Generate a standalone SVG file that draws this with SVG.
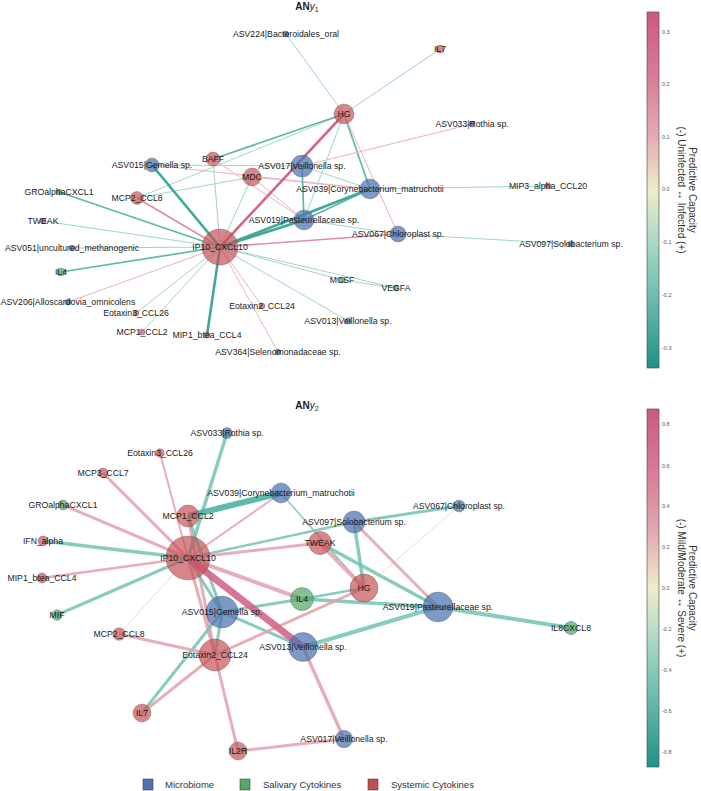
<svg xmlns="http://www.w3.org/2000/svg" width="701" height="791" viewBox="0 0 701 791">
<defs>
<linearGradient id="cmap" x1="0" y1="0" x2="0" y2="1">
<stop offset="0" stop-color="#cc5883"/>
<stop offset="0.2" stop-color="#d98199"/>
<stop offset="0.35" stop-color="#e3abb3"/>
<stop offset="0.5" stop-color="#eeecc9"/>
<stop offset="0.65" stop-color="#a9d7c6"/>
<stop offset="0.8" stop-color="#6ebcaf"/>
<stop offset="1" stop-color="#1f9287"/>
</linearGradient>
</defs>
<style>
text{font-family:"Liberation Sans",Arial,sans-serif;fill:#1a1a1a}
.lbl{font-size:8.7px;text-anchor:middle;dominant-baseline:central}
.title{font-size:10px;text-anchor:middle}
.tick{font-size:5.5px;fill:#555;dominant-baseline:central}
.cbl{font-size:10px;text-anchor:middle;fill:#333}
.leg{font-size:9.5px;fill:#333}
circle{stroke:#444;stroke-width:0.5;stroke-opacity:0.6}
.b{fill:#4c72b0;fill-opacity:0.72}
.g{fill:#55a868;fill-opacity:0.72}
.r{fill:#c44e52;fill-opacity:0.68}
line{stroke-linecap:butt}
.t1{stroke:#9fd6c9;stroke-width:1}
.t2{stroke:#5db9a9;stroke-width:1.7}
.t3{stroke:#3ea899;stroke-width:2.6}
.p1{stroke:#ebb3bd;stroke-width:1}
.p2{stroke:#e08ea3;stroke-width:1.7}
.p3{stroke:#d2668a;stroke-width:2.6}
.bt{stroke:#72c3b3;stroke-opacity:0.85}
.bp{stroke:#e3a0ae;stroke-opacity:0.85}
.bn{stroke:#ebdfc7;stroke-width:1}
.cb{stroke:#444;stroke-width:0.6;fill:url(#cmap)}
</style>
<rect width="701" height="791" fill="#ffffff"/>

<!-- ===== Top network ===== -->
<text class="title" x="307" y="10"><tspan font-weight="bold">AN</tspan><tspan font-style="italic">y</tspan><tspan font-size="7" dy="2">1</tspan></text>
<g id="edges-top">
<line class="t1" x1="344" y1="114" x2="286" y2="34"/>
<line class="t1" x1="344" y1="114" x2="440" y2="49"/>
<line class="t1" x1="344" y1="114" x2="137" y2="198"/>
<line class="t1" x1="344" y1="114" x2="304" y2="220"/>
<line class="t2" x1="344" y1="114" x2="213" y2="159"/>
<line class="t2" x1="344" y1="114" x2="370" y2="189"/>
<line class="p1" x1="344" y1="114" x2="398" y2="234"/>
<line class="p1" x1="472" y1="124" x2="302" y2="166"/>
<line class="t1" x1="152" y1="165" x2="302" y2="166"/>
<line class="p1" x1="152" y1="165" x2="370" y2="189"/>
<line class="p1" x1="213" y1="159" x2="304" y2="220"/>
<line class="p1" x1="252" y1="177" x2="304" y2="220"/>
<line class="p1" x1="252" y1="177" x2="370" y2="189"/>
<line class="t1" x1="252" y1="177" x2="137" y2="198"/>
<line class="t2" x1="302" y1="166" x2="304" y2="220"/>
<line class="t1" x1="302" y1="166" x2="370" y2="189"/>
<line class="t1" x1="370" y1="189" x2="548" y2="186"/>
<line class="t2" x1="370" y1="189" x2="304" y2="220"/>
<line class="t1" x1="304" y1="220" x2="398" y2="234"/>
<line class="t1" x1="398" y1="234" x2="571" y2="244"/>
<line class="t1" x1="342" y1="280" x2="396" y2="288"/>
<line class="t3" x1="220" y1="247" x2="152" y2="165"/>
<line class="p2" x1="220" y1="247" x2="137" y2="198"/>
<line class="t2" x1="220" y1="247" x2="59" y2="192"/>
<line class="t1" x1="220" y1="247" x2="43" y2="221"/>
<line class="t1" x1="220" y1="247" x2="72" y2="248"/>
<line class="t2" x1="220" y1="247" x2="61" y2="272"/>
<line class="p1" x1="220" y1="247" x2="68" y2="302"/>
<line class="t1" x1="220" y1="247" x2="136" y2="313"/>
<line class="t1" x1="220" y1="247" x2="142" y2="332"/>
<line class="t3" x1="220" y1="247" x2="207" y2="335"/>
<line class="p1" x1="220" y1="247" x2="278" y2="352"/>
<line class="p1" x1="220" y1="247" x2="262" y2="306"/>
<line class="t1" x1="220" y1="247" x2="348" y2="321"/>
<line class="t1" x1="220" y1="247" x2="342" y2="280"/>
<line class="t1" x1="220" y1="247" x2="396" y2="288"/>
<line class="p2" x1="220" y1="247" x2="398" y2="234"/>
<line class="t3" x1="220" y1="247" x2="304" y2="220"/>
<line class="t3" x1="220" y1="247" x2="370" y2="189"/>
<line class="t1" x1="220" y1="247" x2="252" y2="177"/>
<line class="t1" x1="220" y1="247" x2="213" y2="159"/>
<line class="p3" x1="220" y1="247" x2="344" y2="114"/>
</g>
<g id="t-ASV224"><circle class="b" cx="286" cy="34" r="3"/><text class="lbl" x="286" y="34">ASV224|Bacteroidales_oral</text></g>
<g id="t-IL7"><circle class="r" cx="440" cy="49" r="4"/><text class="lbl" x="440" y="49">IL7</text></g>
<g id="t-HG"><circle class="r" cx="344" cy="114" r="10"/><text class="lbl" x="344" y="114">HG</text></g>
<g id="t-ASV033"><circle class="b" cx="472" cy="124" r="3"/><text class="lbl" x="472" y="124">ASV033|Rothia sp.</text></g>
<g id="t-ASV015"><circle class="b" cx="152" cy="165" r="7"/><text class="lbl" x="152" y="165">ASV015|Gemella sp.</text></g>
<g id="t-BAFF"><circle class="r" cx="213" cy="159" r="7"/><text class="lbl" x="213" y="159">BAFF</text></g>
<g id="t-ASV017"><circle class="b" cx="302" cy="166" r="11"/><text class="lbl" x="302" y="166">ASV017|Veillonella sp.</text></g>
<g id="t-MDC"><circle class="r" cx="252" cy="177" r="9"/><text class="lbl" x="252" y="177">MDC</text></g>
<g id="t-ASV039"><circle class="b" cx="370" cy="189" r="10"/><text class="lbl" x="370" y="189">ASV039|Corynebacterium_matruchotii</text></g>
<g id="t-MIP3"><circle class="r" cx="548" cy="186" r="3"/><text class="lbl" x="548" y="186">MIP3_alpha_CCL20</text></g>
<g id="t-ASV019"><circle class="b" cx="304" cy="220" r="10"/><text class="lbl" x="304" y="220">ASV019|Pasteurellaceae sp.</text></g>
<g id="t-ASV067"><circle class="b" cx="398" cy="234" r="8"/><text class="lbl" x="398" y="234">ASV067|Chloroplast sp.</text></g>
<g id="t-IP10"><circle class="r" cx="220" cy="247" r="18"/><text class="lbl" x="220" y="247">IP10_CXCL10</text></g>
<g id="t-ASV097"><circle class="b" cx="571" cy="244" r="3"/><text class="lbl" x="571" y="244">ASV097|Solobacterium sp.</text></g>
<g id="t-MCSF"><circle class="g" cx="342" cy="280" r="3"/><text class="lbl" x="342" y="280">MCSF</text></g>
<g id="t-VEGFA"><circle class="g" cx="396" cy="288" r="3"/><text class="lbl" x="396" y="288">VEGFA</text></g>
<g id="t-Eotaxin2"><circle class="r" cx="262" cy="306" r="3"/><text class="lbl" x="262" y="306">Eotaxin2_CCL24</text></g>
<g id="t-ASV013"><circle class="b" cx="348" cy="321" r="3"/><text class="lbl" x="348" y="321">ASV013|Veillonella sp.</text></g>
<g id="t-GRO"><circle class="g" cx="59" cy="192" r="3"/><text class="lbl" x="59" y="192">GROalphaCXCL1</text></g>
<g id="t-MCP2"><circle class="r" cx="137" cy="198" r="6.5"/><text class="lbl" x="137" y="198">MCP2_CCL8</text></g>
<g id="t-TWEAK"><circle class="r" cx="43" cy="221" r="3"/><text class="lbl" x="43" y="221">TWEAK</text></g>
<g id="t-ASV051"><circle class="b" cx="72" cy="248" r="3"/><text class="lbl" x="72" y="248">ASV051|uncultured_methanogenic</text></g>
<g id="t-IL4"><circle class="g" cx="61" cy="272" r="4"/><text class="lbl" x="61" y="272">IL4</text></g>
<g id="t-ASV206"><circle class="b" cx="68" cy="302" r="3"/><text class="lbl" x="68" y="302">ASV206|Alloscardovia_omnicolens</text></g>
<g id="t-Eotaxin3"><circle class="r" cx="136" cy="313" r="3"/><text class="lbl" x="136" y="313">Eotaxin3_CCL26</text></g>
<g id="t-MCP1"><circle class="r" cx="142" cy="332" r="3"/><text class="lbl" x="142" y="332">MCP1_CCL2</text></g>
<g id="t-MIP1"><circle class="r" cx="207" cy="335" r="3"/><text class="lbl" x="207" y="335">MIP1_btea_CCL4</text></g>
<g id="t-ASV364"><circle class="b" cx="278" cy="352" r="3"/><text class="lbl" x="278" y="352">ASV364|Selenomonadaceae sp.</text></g>

<g id="colorbar-top">
<rect class="cb" x="647" y="12" width="12" height="356"/>
<text class="tick" x="662" y="32">0.3</text>
<text class="tick" x="662" y="84">0.2</text>
<text class="tick" x="662" y="137">0.1</text>
<text class="tick" x="662" y="189">0.0</text>
<text class="tick" x="662" y="242">-0.1</text>
<text class="tick" x="662" y="295">-0.2</text>
<text class="tick" x="662" y="348">-0.3</text>
<text class="cbl" transform="translate(689 190) rotate(90)">Predictive Capacity</text>
<text class="cbl" transform="translate(678 190) rotate(90)">(-) Uninfected ↔ Infected (+)</text>
</g>

<!-- ===== Bottom network ===== -->
<text class="title" x="307" y="409"><tspan font-weight="bold">AN</tspan><tspan font-style="italic">y</tspan><tspan font-size="7" dy="2">2</tspan></text>
<g id="edges-bottom">
<line class="bn" x1="188" y1="558" x2="119" y2="634"/>
<line class="bn" x1="364" y1="588" x2="459" y2="506"/>
<line class="bt" stroke-width="1.5" stroke-opacity="0.5" x1="281" y1="493" x2="364" y2="588"/>
<line class="bp" stroke-width="2" x1="188" y1="558" x2="160" y2="453"/>
<line class="bp" stroke-width="3" x1="188" y1="558" x2="103" y2="473"/>
<line class="bp" stroke-width="3" x1="188" y1="558" x2="63" y2="505"/>
<line class="bp" stroke-width="2.5" x1="188" y1="558" x2="42" y2="578"/>
<line class="bp" stroke-width="2" stroke-opacity="0.6" x1="188" y1="558" x2="281" y2="493"/>
<line class="bp" stroke-width="3" x1="188" y1="558" x2="320" y2="543"/>
<line class="bp" stroke-width="3" x1="188" y1="516" x2="215" y2="655"/>
<line class="bp" stroke-width="3" x1="188" y1="558" x2="215" y2="655"/>
<line class="bt" stroke-width="3.5" x1="188" y1="558" x2="227" y2="433"/>
<line class="bt" stroke-width="3.5" x1="188" y1="558" x2="43" y2="541"/>
<line class="bt" stroke-width="3" x1="188" y1="558" x2="57" y2="615"/>
<line class="bt" stroke-width="2.5" stroke-opacity="0.6" x1="188" y1="558" x2="354" y2="522"/>
<line class="bt" stroke-width="3" x1="188" y1="558" x2="222" y2="612"/>
<line class="bt" stroke-width="3" x1="188" y1="516" x2="222" y2="612"/>
<line class="bt" stroke-width="3" x1="354" y1="522" x2="459" y2="506"/>
<line class="bt" stroke-width="3.5" x1="354" y1="522" x2="364" y2="588"/>
<line class="bt" stroke-width="3.5" x1="320" y1="543" x2="438" y2="607"/>
<line class="bt" stroke-width="2.5" stroke-opacity="0.6" x1="364" y1="588" x2="302" y2="599"/>
<line class="bt" stroke-width="3.5" x1="302" y1="599" x2="438" y2="607"/>
<line class="bt" stroke-width="3" x1="302" y1="599" x2="222" y2="612"/>
<line class="bt" stroke-width="3" x1="222" y1="612" x2="303" y2="647"/>
<line class="bt" stroke-width="3" x1="222" y1="612" x2="215" y2="655"/>
<line class="bt" stroke-width="3" x1="142" y1="713" x2="222" y2="612"/>
<line class="bt" stroke-width="4" x1="438" y1="607" x2="571" y2="628"/>
<line class="bt" stroke-width="4" x1="438" y1="607" x2="303" y2="647"/>
<line class="bp" stroke-width="3" x1="354" y1="522" x2="438" y2="607"/>
<line class="bp" stroke-width="4" stroke="#de8ea2" x1="320" y1="543" x2="364" y2="588"/>
<line class="bp" stroke-width="3" x1="215" y1="655" x2="364" y2="588"/>
<line class="bp" stroke-width="3" x1="142" y1="713" x2="215" y2="655"/>
<line class="bp" stroke-width="3" x1="119" y1="634" x2="215" y2="655"/>
<line class="bp" stroke-width="3" x1="215" y1="655" x2="238" y2="751"/>
<line class="bp" stroke-width="3" x1="238" y1="751" x2="344" y2="739"/>
<line class="bp" stroke-width="3.5" x1="303" y1="647" x2="344" y2="739"/>
<line class="bp" stroke-width="4" stroke="#dc8aa0" x1="188" y1="558" x2="302" y2="599"/>
<line stroke="#d3668b" stroke-opacity="0.9" stroke-width="7" x1="188" y1="558" x2="303" y2="647"/>
<line stroke="#4fb3a3" stroke-opacity="0.9" stroke-width="6" x1="188" y1="516" x2="281" y2="493"/>
</g>
<g id="b-ASV033"><circle class="b" cx="227" cy="433" r="5.5"/><text class="lbl" x="227" y="433">ASV033|Rothia sp.</text></g>
<g id="b-Eotaxin3"><circle class="r" cx="160" cy="453" r="4.3"/><text class="lbl" x="160" y="453">Eotaxin3_CCL26</text></g>
<g id="b-MCP3"><circle class="r" cx="103" cy="473" r="5"/><text class="lbl" x="103" y="473">MCP3_CCL7</text></g>
<g id="b-ASV039"><circle class="b" cx="281" cy="493" r="10"/><text class="lbl" x="281" y="493">ASV039|Corynebacterium_matruchotii</text></g>
<g id="b-GRO"><circle class="g" cx="63" cy="505" r="5"/><text class="lbl" x="63" y="505">GROalphaCXCL1</text></g>
<g id="b-MCP1"><circle class="r" cx="188" cy="516" r="11"/><text class="lbl" x="188" y="516">MCP1_CCL2</text></g>
<g id="b-IFN"><circle class="r" cx="43" cy="541" r="5"/><text class="lbl" x="43" y="541">IFN_alpha</text></g>
<g id="b-IP10"><circle class="r" cx="188" cy="558" r="22"/><text class="lbl" x="188" y="558">IP10_CXCL10</text></g>
<g id="b-MIP1"><circle class="r" cx="42" cy="578" r="5"/><text class="lbl" x="42" y="578">MIP1_btea_CCL4</text></g>
<g id="b-TWEAK"><circle class="r" cx="320" cy="543" r="11.5"/><text class="lbl" x="320" y="543">TWEAK</text></g>
<g id="b-ASV097"><circle class="b" cx="354" cy="522" r="11"/><text class="lbl" x="354" y="522">ASV097|Solobacterium sp.</text></g>
<g id="b-ASV067"><circle class="b" cx="459" cy="506" r="6"/><text class="lbl" x="459" y="506">ASV067|Chloroplast sp.</text></g>
<g id="b-HG"><circle class="r" cx="364" cy="588" r="14"/><text class="lbl" x="364" y="588">HG</text></g>
<g id="b-IL4"><circle class="g" cx="302" cy="599" r="11.5"/><text class="lbl" x="302" y="599">IL4</text></g>
<g id="b-ASV015"><circle class="b" cx="222" cy="612" r="16"/><text class="lbl" x="222" y="612">ASV015|Gemella sp.</text></g>
<g id="b-ASV019"><circle class="b" cx="438" cy="607" r="15"/><text class="lbl" x="438" y="607">ASV019|Pasteurellaceae sp.</text></g>
<g id="b-ASV013"><circle class="b" cx="303" cy="647" r="14.5"/><text class="lbl" x="303" y="647">ASV013|Veillonella sp.</text></g>
<g id="b-Eotaxin2"><circle class="r" cx="215" cy="655" r="16"/><text class="lbl" x="215" y="655">Eotaxin2_CCL24</text></g>
<g id="b-MIF"><circle class="g" cx="57" cy="615" r="5.3"/><text class="lbl" x="57" y="615">MIF</text></g>
<g id="b-MCP2"><circle class="r" cx="119" cy="634" r="6.3"/><text class="lbl" x="119" y="634">MCP2_CCL8</text></g>
<g id="b-IL8"><circle class="g" cx="571" cy="628" r="6.7"/><text class="lbl" x="571" y="628">IL8CXCL8</text></g>
<g id="b-IL7"><circle class="r" cx="142" cy="713" r="9"/><text class="lbl" x="142" y="713">IL7</text></g>
<g id="b-IL2R"><circle class="r" cx="238" cy="751" r="9"/><text class="lbl" x="238" y="751">IL2R</text></g>
<g id="b-ASV017"><circle class="b" cx="344" cy="739" r="8.7"/><text class="lbl" x="344" y="739">ASV017|Veillonella sp.</text></g>

<g id="colorbar-bottom">
<rect class="cb" x="647" y="409" width="12" height="358"/>
<text class="tick" x="662" y="424">0.8</text>
<text class="tick" x="662" y="466">0.6</text>
<text class="tick" x="662" y="506">0.4</text>
<text class="tick" x="662" y="547">0.2</text>
<text class="tick" x="662" y="588">0.0</text>
<text class="tick" x="662" y="629">-0.2</text>
<text class="tick" x="662" y="670">-0.4</text>
<text class="tick" x="662" y="711">-0.6</text>
<text class="tick" x="662" y="752">-0.8</text>
<text class="cbl" transform="translate(689 588) rotate(90)">Predictive Capacity</text>
<text class="cbl" transform="translate(678 588) rotate(90)">(-) Mild/Moderate ↔ Severe (+)</text>
</g>

<g id="legend">
<rect x="143" y="779" width="10" height="11" fill="#4c72b0" stroke="#333" stroke-width="0.5"/>
<text class="leg" x="165" y="788">Microbiome</text>
<rect x="240" y="779" width="10" height="11" fill="#55a868" stroke="#333" stroke-width="0.5"/>
<text class="leg" x="263" y="788">Salivary Cytokines</text>
<rect x="368" y="779" width="10" height="11" fill="#c44e52" stroke="#333" stroke-width="0.5"/>
<text class="leg" x="391" y="788">Systemic Cytokines</text>
</g>
</svg>
